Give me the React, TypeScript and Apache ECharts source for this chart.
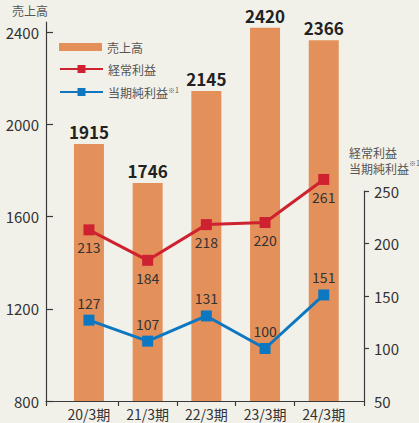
import React, { useEffect, useRef } from 'react';
import * as echarts from 'echarts';

const categories = ['20/3期', '21/3期', '22/3期', '23/3期', '24/3期'];
const sales = [1915, 1746, 2145, 2420, 2366];
const ordinaryProfit = [213, 184, 218, 220, 261];
const netProfit = [127, 107, 131, 100, 151];
const salesTicks = [800, 1200, 1600, 2000, 2400];
const profitLabels = [50, 100, 150, 200, 250];
const profitTicks = [100, 150, 200, 250];

const FONT = '"Noto Sans CJK JP", "Noto Sans", sans-serif';
const AXIS = '#3a3a3a';
const TEXT = '#333';
const SUB = '#555';
const ORANGE = '#e3905a';
const RED = '#cf2230';
const BLUE = '#0d78c1';
const BG = '#f2f1e9';

export default function App() {
  const ref = useRef<HTMLDivElement>(null);
  useEffect(() => {
    const chart = echarts.init(ref.current!, null, { renderer: 'svg' });
    const inner = { left: 59.6, width: 293.5 };
    chart.setOption({
      animation: false,
      backgroundColor: BG,
      textStyle: { fontFamily: FONT },
      grid: [
        { left: 46, top: 22, width: 318, height: 379 },
        { left: inner.left, top: 22, width: inner.width, height: 379 },
        { left: inner.left, top: 191, width: inner.width, height: 210 },
        { left: inner.left, top: 401, width: inner.width, height: 5 },
      ],
      xAxis: [
        {
          gridIndex: 0, type: 'value', min: 0, max: 1,
          axisLine: { show: true, lineStyle: { color: AXIS, width: 1.2 } },
          axisTick: { show: true, customValues: [0, 1], length: 5, lineStyle: { color: AXIS, width: 1.2 } },
          axisLabel: { show: false }, splitLine: { show: false },
        },
        { gridIndex: 1, type: 'category', data: categories, show: false },
        { gridIndex: 2, type: 'category', data: categories, show: false },
        {
          gridIndex: 3, type: 'category', data: categories,
          axisLine: { show: false }, axisTick: { show: false },
          axisLabel: { show: true, interval: 0, margin: 1, fontSize: 14, color: TEXT, fontFamily: FONT },
          splitLine: { show: true, interval: 0, showMinLine: false, showMaxLine: false, lineStyle: { color: AXIS, width: 1.2 } },
        },
      ],
      yAxis: [
        {
          gridIndex: 0, type: 'value', position: 'left', min: 800, max: 2445, interval: 400,
          axisLine: { show: true, lineStyle: { color: AXIS, width: 1.2 } },
          axisTick: { show: true, inside: true, length: 7, customValues: salesTicks, lineStyle: { color: AXIS, width: 1.2 } },
          axisLabel: {
            customValues: salesTicks, margin: 7, fontSize: 15, color: TEXT, fontFamily: FONT,
            formatter: (v: number) => String(v),
          },
          splitLine: { show: false },
        },
        { gridIndex: 1, type: 'value', min: 800, max: 2445, show: false },
        {
          gridIndex: 2, type: 'value', position: 'right', offset: 10.9, min: 50, max: 250, interval: 50,
          axisLine: { show: true, lineStyle: { color: AXIS, width: 1.2 } },
          axisTick: { show: true, length: 5, customValues: profitTicks, lineStyle: { color: AXIS, width: 1.2 } },
          axisLabel: {
            customValues: profitLabels, margin: 10, fontSize: 15, color: TEXT, fontFamily: FONT,
            formatter: (v: number) => String(v),
          },
          splitLine: { show: false },
        },
        { gridIndex: 3, type: 'value', show: false },
      ],
      legend: [
        {
          data: [{ name: '売上高', icon: 'rect' }],
          left: 54, top: 36, itemWidth: 43, itemHeight: 8, selectedMode: false,
          textStyle: { fontSize: 12, color: SUB, fontFamily: FONT },
        },
        {
          data: ['経常利益', '当期純利益※1'],
          orient: 'vertical', left: 54, top: 58, itemWidth: 43, itemHeight: 10, itemGap: 11,
          selectedMode: false,
          formatter: (name: string) => (name === '当期純利益※1' ? '当期純利益{sup|※1}' : name),
          textStyle: {
            fontSize: 12, color: SUB, fontFamily: FONT,
            rich: { sup: { fontSize: 7, color: SUB, verticalAlign: 'top', fontFamily: FONT } },
          },
        },
      ],
      graphic: [
        {
          type: 'text', left: 12, top: 4,
          style: { text: '売上高', fontSize: 12, fill: SUB, fontFamily: FONT },
        },
        {
          type: 'text', left: 349, top: 144,
          style: {
            text: '経常利益\n当期純利益{sup|※1}', fontSize: 12, lineHeight: 16, fill: SUB, fontFamily: FONT,
            rich: { sup: { fontSize: 7, fill: SUB, verticalAlign: 'top', fontFamily: FONT } },
          },
        },
      ],
      series: [
        {
          name: '売上高', type: 'bar', xAxisIndex: 1, yAxisIndex: 1, data: sales, barWidth: 30,
          itemStyle: { color: ORANGE },
          label: { show: true, position: 'top', distance: 4, fontSize: 17, fontWeight: 'bold', color: '#222', fontFamily: FONT },
        },
        {
          name: '経常利益', type: 'line', xAxisIndex: 2, yAxisIndex: 2, data: ordinaryProfit, clip: false,
          symbol: 'rect', symbolSize: 11,
          lineStyle: { color: RED, width: 3 }, itemStyle: { color: RED },
          label: { show: true, position: 'bottom', distance: 5, fontSize: 14, color: TEXT, fontFamily: FONT },
        },
        {
          name: '当期純利益※1', type: 'line', xAxisIndex: 2, yAxisIndex: 2, data: netProfit, clip: false,
          symbol: 'rect', symbolSize: 11,
          lineStyle: { color: BLUE, width: 3 }, itemStyle: { color: BLUE },
          label: { show: true, position: 'top', distance: 5, fontSize: 14, color: TEXT, fontFamily: FONT },
        },
      ],
    });
    return () => chart.dispose();
  }, []);
  return <div ref={ref} style={{ position: 'fixed', left: 0, top: 0, width: 419, height: 423 }} />;
}
